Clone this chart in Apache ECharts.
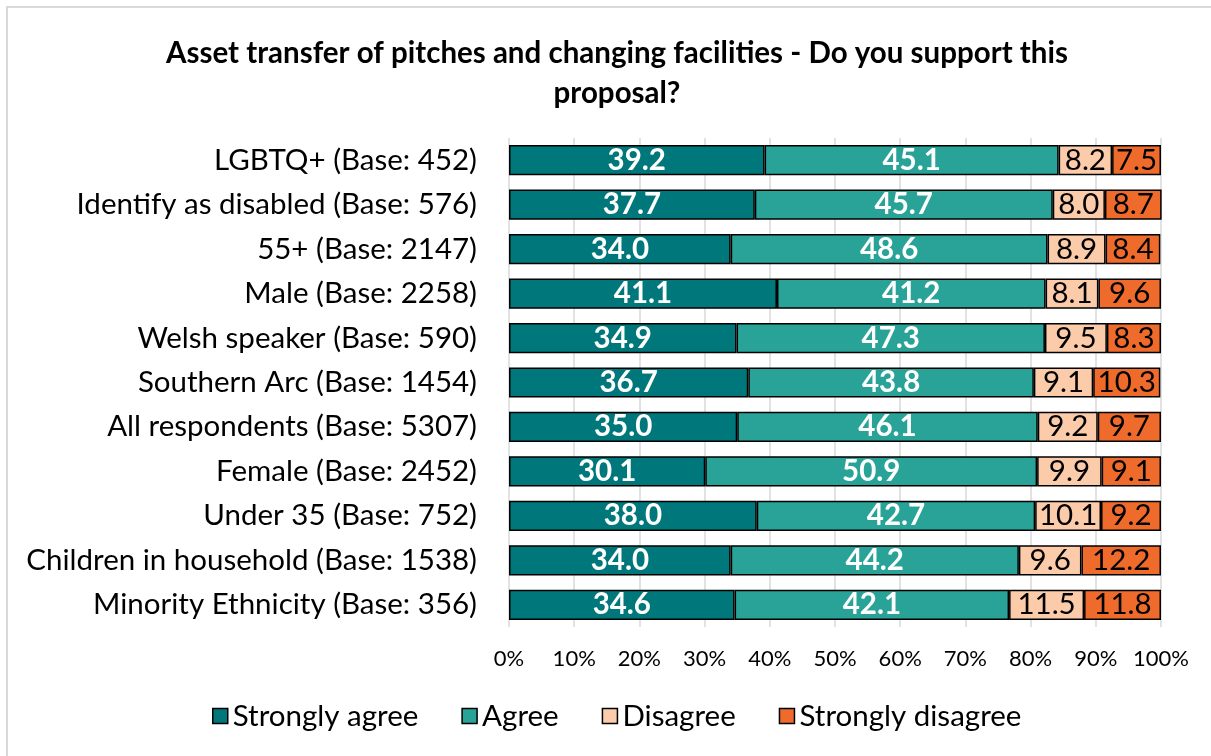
<!DOCTYPE html>
<html>
<head>
<meta charset="utf-8">
<script src="https://cdn.jsdelivr.net/npm/echarts@6/dist/echarts.min.js"></script>
<style>
  html, body { margin: 0; padding: 0; background: #ffffff; }
  #chart { width: 1211px; height: 756px; }
</style>
</head>
<body>
<div id="chart"></div>
<script>
const categories = [
  'LGBTQ+ (Base: 452)',
  'Identify as disabled (Base: 576)',
  '55+ (Base: 2147)',
  'Male (Base: 2258)',
  'Welsh speaker (Base: 590)',
  'Southern Arc (Base: 1454)',
  'All respondents (Base: 5307)',
  'Female (Base: 2452)',
  'Under 35 (Base: 752)',
  'Children in household (Base: 1538)',
  'Minority Ethnicity (Base: 356)'
];
const stronglyAgree    = [39.2, 37.7, 34.0, 41.1, 34.9, 36.7, 35.0, 30.1, 38.0, 34.0, 34.6];
const agree            = [45.1, 45.7, 48.6, 41.2, 47.3, 43.8, 46.1, 50.9, 42.7, 44.2, 42.1];
const disagree         = [8.2, 8.0, 8.9, 8.1, 9.5, 9.1, 9.2, 9.9, 10.1, 9.6, 11.5];
const stronglyDisagree = [7.5, 8.7, 8.4, 9.6, 8.3, 10.3, 9.7, 9.1, 9.2, 12.2, 11.8];
const seriesNames = ['Strongly agree', 'Agree', 'Disagree', 'Strongly disagree'];
const colors = ['#00777B', '#29A398', '#FBCBAA', '#EE6B2C'];

const FONT = 'Lato, "Open Sans", sans-serif';
const TEXT_SIZE = 29.5;

function barSeries(name, data, color, light) {
  return {
    name: name,
    type: 'bar',
    stack: 'total',
    data: data,
    barWidth: '68%',
    itemStyle: { color: color, borderColor: '#000000', borderWidth: 1.5 },
    label: {
      show: true,
      position: 'inside',
      formatter: p => p.value.toFixed(1),
      fontFamily: FONT,
      fontSize: TEXT_SIZE,
      fontWeight: light ? 'bold' : 'normal',
      color: light ? '#ffffff' : '#000000'
    },
    emphasis: { disabled: true }
  };
}

const chart = echarts.init(document.getElementById('chart'), null, { renderer: 'canvas' });
chart.setOption({
  backgroundColor: '#ffffff',
  animation: false,
  graphic: [{
    type: 'rect',
    shape: { x: 7, y: 7, width: 1220, height: 770 },
    style: { fill: 'none', stroke: '#d9d9d9', lineWidth: 2 },
    z: -1
  }],
  title: {
    text: 'Asset transfer of pitches and changing facilities - Do you support this\nproposal?',
    left: 612,
    textAlign: 'center',
    top: 28,
    textStyle: {
      fontFamily: FONT,
      fontSize: TEXT_SIZE,
      fontWeight: 'bold',
      color: '#000000',
      lineHeight: 40
    }
  },
  legend: {
    data: seriesNames,
    bottom: 20,
    left: 207,
    itemWidth: 15,
    itemHeight: 15,
    itemGap: 43,
    icon: 'rect',
    itemStyle: { borderColor: '#000000', borderWidth: 1.5 },
    textStyle: { fontFamily: FONT, fontSize: TEXT_SIZE, color: '#000000', padding: [0, 0, 0, 0] }
  },
  grid: { left: 509, right: 50, top: 138, bottom: 129, containLabel: false },
  xAxis: {
    type: 'value',
    min: 0,
    max: 100,
    interval: 10,
    axisLabel: {
      formatter: '{value}%',
      fontFamily: FONT,
      fontSize: 22,
      color: '#000000',
      margin: 21
    },
    axisLine: { show: false },
    axisTick: { show: false },
    splitLine: { show: true, lineStyle: { color: '#d9d9d9', width: 1.5 } }
  },
  yAxis: {
    type: 'category',
    data: categories,
    inverse: true,
    axisLabel: { fontFamily: FONT, fontSize: TEXT_SIZE, color: '#000000', margin: 32 },
    axisLine: { show: false },
    axisTick: { show: false }
  },
  series: [
    barSeries(seriesNames[0], stronglyAgree, colors[0], true),
    barSeries(seriesNames[1], agree, colors[1], true),
    barSeries(seriesNames[2], disagree, colors[2], false),
    barSeries(seriesNames[3], stronglyDisagree, colors[3], false)
  ]
});
</script>
</body>
</html>
